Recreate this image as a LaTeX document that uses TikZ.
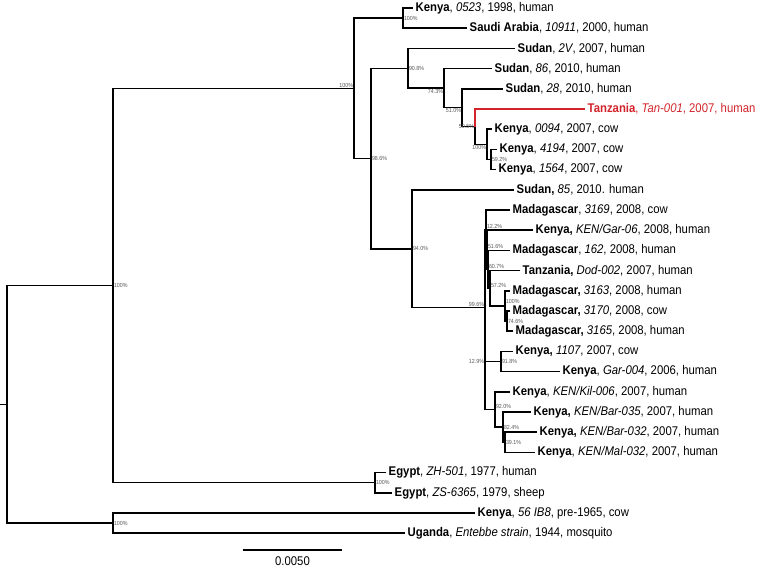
\documentclass[tikz,border=0pt]{standalone}
\usepackage{fontspec}
\setmainfont{Liberation Sans}[FakeStretch=0.9]
\usepackage{tikz}

\definecolor{tanred}{RGB}{210,35,42}
\newcommand{\isol}[3]{\textbf{#1}, \textit{#2}, #3}
\newcommand{\isolb}[3]{\textbf{#1,} \textit{#2}, #3}

\begin{document}
\begin{tikzpicture}[
  x=1pt, y=-1pt,
  branch/.style={line width=1.5pt,black},
  leaf/.style={anchor=west,inner xsep=2.5pt,inner ysep=0pt,
    font=\fontsize{12.6}{14}\selectfont},
  boot/.style={inner sep=0.8pt,text=black!65,
    font=\fontsize{5.9}{6}\selectfont}
]
\useasboundingbox (0,0) rectangle (760,569);

%--------------------
% 内部節点
%--------------------
\coordinate (stub) at (0,404.3);
\coordinate (R0) at (7,404.3);
\coordinate (A)  at (113,285.5);
\coordinate (BT) at (113,523.1);
\coordinate (B)  at (354,88.3);
\coordinate (EG) at (375,482.7);
\coordinate (KS) at (403,18.1);
\coordinate (D)  at (371,158.5);
\coordinate (E)  at (408,68.3);
\coordinate (F)  at (444,88.2);
\coordinate (G)  at (462,107.7);
\coordinate (H)  at (475,126.7);
\coordinate (I)  at (487,144.4);
\coordinate (J)  at (491,159.5);
\coordinate (K)  at (412,248.8);
\coordinate (L)  at (485,307.7);
\coordinate (M1) at (486,229.9);
\coordinate (M2) at (487,249.8);
\coordinate (M3) at (488,269.3);
\coordinate (M4) at (490,288.3);
\coordinate (M5) at (505,305.9);
\coordinate (M6) at (507,321.1);
\coordinate (N)  at (485,385.5);
\coordinate (O)  at (501,361.5);
\coordinate (P)  at (495,409.5);
\coordinate (Q)  at (503,427.2);
\coordinate (R)  at (505,442.3);

%--------------------
% 葉（株名）
%--------------------
\node[leaf] (ke0523)   at (413,8)     {\isol{Kenya}{0523}{1998, human}};
\node[leaf] (sa10911)  at (467,28.2)  {\isol{Saudi Arabia}{10911}{2000, human}};
\node[leaf] (su2V)     at (515,48.4)  {\isol{Sudan}{2V}{2007, human}};
\node[leaf] (su86)     at (492,68.6)  {\isol{Sudan}{86}{2010, human}};
\node[leaf] (su28)     at (503,88.8)  {\isol{Sudan}{28}{2010, human}};
\node[leaf,text=tanred] (tz001) at (585,109) {\isol{Tanzania}{Tan-001}{2007, human}};
\node[leaf] (ke0094)   at (492,129.2) {\isol{Kenya}{0094}{2007, cow}};
\node[leaf] (ke4194)   at (497,149.4) {\isol{Kenya}{4194}{2007, cow}};
\node[leaf] (ke1564)   at (496,169.6) {\isol{Kenya}{1564}{2007, cow}};
\node[leaf] (su85)     at (514,189.8) {\textbf{Sudan,} \textit{85}, 2010. human};
\node[leaf] (ma3169)   at (510,210)   {\isol{Madagascar}{3169}{2008, cow}};
\node[leaf] (keGar06)  at (533,230.2) {\isolb{Kenya}{KEN/Gar-06}{2008, human}};
\node[leaf] (ma162)    at (510,250.4) {\isol{Madagascar}{162}{2008, human}};
\node[leaf] (tzDod)    at (520,270.6) {\isolb{Tanzania}{Dod-002}{2007, human}};
\node[leaf] (ma3163)   at (510,290.8) {\isolb{Madagascar}{3163}{2008, human}};
\node[leaf] (ma3170)   at (510,311)   {\isolb{Madagascar}{3170}{2008, cow}};
\node[leaf] (ma3165)   at (513,331.2) {\isolb{Madagascar}{3165}{2008, human}};
\node[leaf] (ke1107)   at (513,351.4) {\isolb{Kenya}{1107}{2007, cow}};
\node[leaf] (keGar004) at (560,371.6) {\isol{Kenya}{Gar-004}{2006, human}};
\node[leaf] (keKil006) at (510,391.8) {\isol{Kenya}{KEN/Kil-006}{2007, human}};
\node[leaf] (keBar035) at (531,412)   {\isolb{Kenya}{KEN/Bar-035}{2007, human}};
\node[leaf] (keBar032) at (537,432.2) {\isolb{Kenya}{KEN/Bar-032}{2007, human}};
\node[leaf] (keMal032) at (535,452.4) {\isol{Kenya}{KEN/Mal-032}{2007, human}};
\node[leaf] (egZH501)  at (386,472.6) {\isol{Egypt}{ZH-501}{1977, human}};
\node[leaf] (egZS6365) at (392,492.8) {\isol{Egypt}{ZS-6365}{1979, sheep}};
\node[leaf] (ke56IB8)  at (475,513)   {\isol{Kenya}{56 IB8}{pre-1965, cow}};
\node[leaf] (ugEnt)    at (405,533.2) {\isol{Uganda}{Entebbe strain}{1944, mosquito}};

%--------------------
% 枝
%--------------------
\draw[branch] (stub) -- (R0);
\draw[branch] (R0) |- (A);
\draw[branch] (R0) |- (BT);
\draw[branch] (A) |- (B);
\draw[branch] (A) |- (EG);
\draw[branch] (B) |- (KS);
\draw[branch] (B) |- (D);
\draw[branch] (KS) |- (ke0523.west);
\draw[branch] (KS) |- (sa10911.west);
\draw[branch] (D) |- (E);
\draw[branch] (D) |- (K);
\draw[branch] (E) |- (su2V.west);
\draw[branch] (E) |- (F);
\draw[branch] (F) |- (su86.west);
\draw[branch] (F) |- (G);
\draw[branch] (G) |- (su28.west);
\draw[branch] (G) |- (H);
\draw[branch] (H) |- (I);
\draw[branch] (I) |- (ke0094.west);
\draw[branch] (I) |- (J);
\draw[branch] (J) |- (ke4194.west);
\draw[branch] (J) |- (ke1564.west);
% タンザニア株の枝は赤
\draw[branch,tanred] (H) |- (tz001.west);

\draw[branch] (K) |- (su85.west);
\draw[branch] (K) |- (L);
\draw[branch] (L) |- (M1);
\draw[branch] (L) |- (N);
\draw[branch] (M1) |- (ma3169.west);
\draw[branch] (M1) |- (M2);
\draw[branch] (M2) |- (keGar06.west);
\draw[branch] (M2) |- (M3);
\draw[branch] (M3) |- (ma162.west);
\draw[branch] (M3) |- (M4);
\draw[branch] (M4) |- (tzDod.west);
\draw[branch] (M4) |- (M5);
\draw[branch] (M5) |- (ma3163.west);
\draw[branch] (M5) |- (M6);
\draw[branch] (M6) |- (ma3170.west);
\draw[branch] (M6) |- (ma3165.west);
\draw[branch] (N) |- (O);
\draw[branch] (N) |- (P);
\draw[branch] (O) |- (ke1107.west);
\draw[branch] (O) |- (keGar004.west);
\draw[branch] (P) |- (keKil006.west);
\draw[branch] (P) |- (Q);
\draw[branch] (Q) |- (keBar035.west);
\draw[branch] (Q) |- (R);
\draw[branch] (R) |- (keBar032.west);
\draw[branch] (R) |- (keMal032.west);

\draw[branch] (EG) |- (egZH501.west);
\draw[branch] (EG) |- (egZS6365.west);
\draw[branch] (BT) |- (ke56IB8.west);
\draw[branch] (BT) |- (ugEnt.west);

%--------------------
% ブートストラップ値
%--------------------
\node[boot,right]       (bA)  at (A)  {100\%};
\node[boot,right]       (bBT) at (BT) {100\%};
\node[boot,above left]  (bB)  at (B)  {100\%};
\node[boot,right]       (bEG) at (EG) {100\%};
\node[boot,right]       (bKS) at (KS) {100\%};
\node[boot,right]       (bD)  at (D)  {98.6\%};
\node[boot,right]       (bE)  at (E)  {90.8\%};
\node[boot,below left]  (bF)  at (F)  {74.3\%};
\node[boot,below left]  (bG)  at (G)  {51.0\%};
\node[boot,left]        (bH)  at (H)  {50.5\%};
\node[boot,below left]  (bI)  at (I)  {100\%};
\node[boot,right]       (bJ)  at (J)  {59.2\%};
\node[boot,right]       (bK)  at (K)  {94.0\%};
\node[boot,above left]  (bL)  at (L)  {99.6\%};
\node[boot,above right] (bM1) at (M1) {12.2\%};
\node[boot,above right] (bM2) at (M2) {51.6\%};
\node[boot,above right] (bM3) at (M3) {60.7\%};
\node[boot,above right] (bM4) at (M4) {57.2\%};
\node[boot,above right,yshift=1.2pt] (bM5) at (M5) {100\%};
\node[boot,right]       (bM6) at (M6) {74.6\%};
\node[boot,left]        (bN)  at (N |- O) {12.9\%};
\node[boot,right]       (bO)  at (O)  {91.8\%};
\node[boot,above right] (bP)  at (P)  {92.0\%};
\node[boot,right]       (bQ)  at (Q)  {82.4\%};
\node[boot,right]       (bR)  at (R)  {39.1\%};

%--------------------
% スケールバー
%--------------------
\coordinate (sb1) at (243,550);
\coordinate (sb2) at (342,550);
\draw[line width=1.6pt] (sb1) -- (sb2)
  node[midway,below=3pt,font=\fontsize{12.6}{14}\selectfont] (sbl) {0.0050};

\end{tikzpicture}
\end{document}
